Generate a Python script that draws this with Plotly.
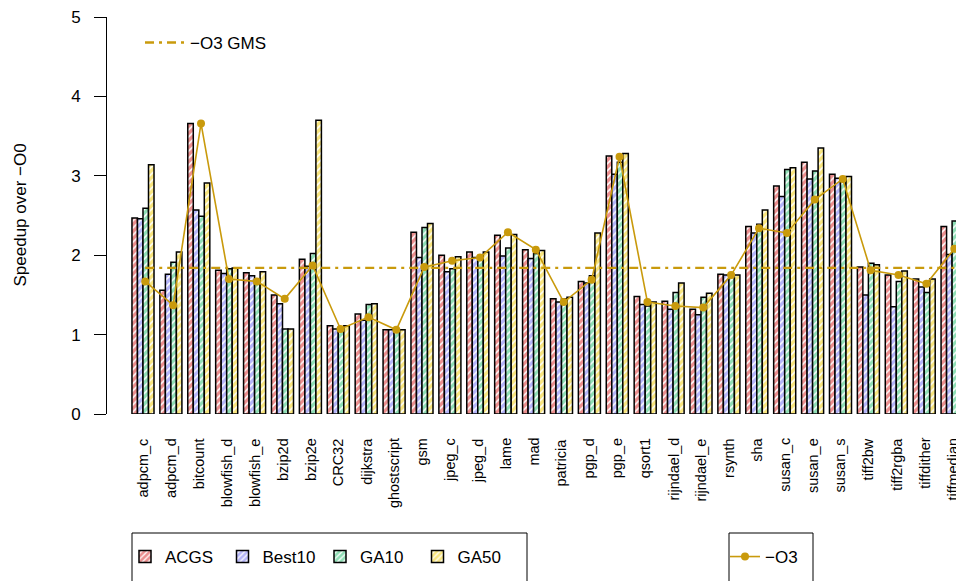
import plotly.graph_objects as go

categories = ["adpcm_c", "adpcm_d", "bitcount", "blowfish_d", "blowfish_e", "bzip2d",
              "bzip2e", "CRC32", "dijkstra", "ghostscript", "gsm", "jpeg_c", "jpeg_d",
              "lame", "mad", "patricia", "pgp_d", "pgp_e", "qsort1", "rijndael_d",
              "rijndael_e", "rsynth", "sha", "susan_c", "susan_e", "susan_s", "tiff2bw",
              "tiff2rgba", "tiffdither", "tiffmedian"]

acgs = [2.47, 1.56, 3.66, 1.81, 1.78, 1.50, 1.95, 1.11, 1.26, 1.06, 2.29, 2.00, 2.04,
        2.25, 2.07, 1.45, 1.67, 3.25, 1.48, 1.42, 1.32, 1.76, 2.36, 2.87, 3.17, 3.02,
        1.85, 1.75, 1.70, 2.36]
best10 = [2.46, 1.76, 2.57, 1.77, 1.74, 1.39, 1.86, 1.07, 1.18, 1.06, 1.97, 1.79, 1.97,
          1.99, 1.96, 1.41, 1.65, 3.02, 1.38, 1.32, 1.25, 1.75, 2.28, 2.74, 2.96, 2.97,
          1.50, 1.35, 1.60, 2.01]
ga10 = [2.59, 1.91, 2.49, 1.83, 1.69, 1.07, 2.02, 1.09, 1.38, 1.06, 2.35, 1.83, 1.96,
        2.09, 2.02, 1.45, 1.74, 3.17, 1.36, 1.53, 1.47, 1.74, 2.39, 3.08, 3.06, 2.95,
        1.90, 1.67, 1.53, 2.43]
ga50 = [3.14, 2.04, 2.91, 1.84, 1.79, 1.07, 3.70, 1.11, 1.39, 1.06, 2.40, 1.98, 2.04,
        2.26, 2.06, 1.47, 2.28, 3.28, 1.41, 1.65, 1.52, 1.75, 2.57, 3.10, 3.35, 2.99,
        1.88, 1.80, 1.70, 2.45]
o3 = [1.67, 1.37, 3.66, 1.70, 1.67, 1.45, 1.87, 1.07, 1.22, 1.06, 1.85, 1.93, 1.97,
      2.29, 2.07, 1.41, 1.69, 3.24, 1.41, 1.36, 1.34, 1.75, 2.34, 2.28, 2.70, 2.96,
      1.81, 1.75, 1.64, 2.08]
o3_gms = 1.84

series_names = ["ACGS", "Best10", "GA10", "GA50"]
series_vals = [acgs, best10, ga10, ga50]
series_cols = ["#D81E1E", "#6A6AF2", "#1FBD6C", "#F2CC00"]
line_col = "#C99A0C"

FONT = "Liberation Sans, Arial, sans-serif"
W, H = 956, 581
L, R, T, B = 107, 0, 17, 167
PW, PH = W - L - R, H - T - B

xs = list(range(len(categories)))

fig = go.Figure()
for name, vals, col in zip(series_names, series_vals, series_cols):
    fig.add_trace(go.Bar(
        x=xs, y=vals, name=name, legend="legend",
        marker=dict(color="white",
                    line=dict(color="black", width=1.5),
                    pattern=dict(shape="/", fgcolor=col, bgcolor="white",
                                 size=5, solidity=0.7)),
    ))

fig.add_trace(go.Scatter(
    x=[x + 0.08 for x in xs], y=o3, name="\u2212O3", mode="lines+markers",
    line=dict(color=line_col, width=1.6), marker=dict(color=line_col, size=8),
    legend="legend2",
))
fig.add_trace(go.Scatter(
    x=[xs[0] + 0.08, xs[-1] + 1], y=[o3_gms, o3_gms], name="\u2212O3 GMS", mode="lines",
    line=dict(color=line_col, width=2.4, dash="9px,5px,3px,5px"),
    legend="legend3",
))

def px_x(p):
    return (p - L) / PW

def px_y(p):
    return (H - B - p) / PH

annotations = []
for i, c in enumerate(categories):
    annotations.append(dict(x=i, xref="x", y=px_y(436), yref="paper", text=c,
                            textangle=-90, showarrow=False, xanchor="center",
                            yanchor="top", font=dict(size=14.5, color="black", family=FONT)))
annotations.append(dict(x=px_x(20), xref="paper", y=0.5, yref="paper",
                        text="Speedup over \u2212O0", textangle=-90, showarrow=False,
                        xanchor="center", yanchor="middle",
                        font=dict(size=17, color="black", family=FONT)))

shapes = [
    dict(type="rect", xref="paper", yref="paper", x0=px_x(132), x1=px_x(527),
         y0=px_y(533), y1=px_y(620), line=dict(color="black", width=1)),
    dict(type="rect", xref="paper", yref="paper", x0=px_x(729), x1=px_x(813),
         y0=px_y(533), y1=px_y(620), line=dict(color="black", width=1)),
]

fig.update_layout(
    width=W, height=H, margin=dict(l=L, r=R, t=T, b=B, pad=0),
    plot_bgcolor="white", paper_bgcolor="white",
    font=dict(family=FONT, size=17, color="black"),
    barmode="group", bargap=0.21, bargroupgap=0,
    showlegend=True,
    xaxis=dict(range=[-1.29, 29.14], showticklabels=False, showgrid=False,
               zeroline=False, showline=False, ticks=""),
    yaxis=dict(range=[0, 5], tickvals=[0, 1, 2, 3, 4, 5], showgrid=False,
               zeroline=False, showline=True, linecolor="black", linewidth=1,
               ticks="outside", ticklen=12, tickcolor="black",
               ticklabelstandoff=10, tickfont=dict(size=17)),
    legend=dict(orientation="h", x=px_x(125), xanchor="left", y=px_y(557),
                yanchor="middle", bgcolor="rgba(0,0,0,0)", borderwidth=0,
                entrywidth=52.5, font=dict(size=17), traceorder="normal"),
    legend2=dict(orientation="h", x=px_x(725), xanchor="left", y=px_y(557),
                 yanchor="middle", bgcolor="rgba(0,0,0,0)", borderwidth=0,
                 font=dict(size=17)),
    legend3=dict(orientation="h", x=px_x(140), xanchor="left", y=px_y(43),
                 yanchor="middle", bgcolor="rgba(0,0,0,0)", borderwidth=0,
                 itemwidth=40, font=dict(size=17)),
    annotations=annotations, shapes=shapes,
)

fig.write_html("out.html", config={"displayModeBar": False},
               post_script="document.body.style.margin='0';")
